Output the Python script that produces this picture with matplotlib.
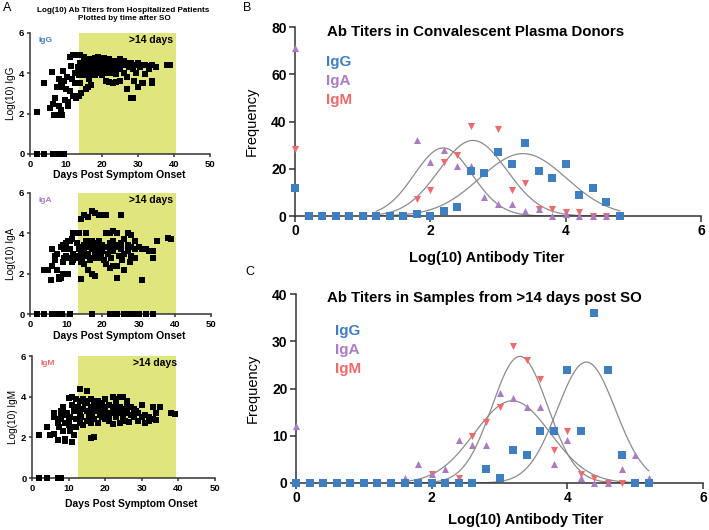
import numpy as np
import matplotlib.pyplot as plt

plt.rcParams['font.family'] = ['Liberation Sans', 'DejaVu Sans']
plt.rcParams['font.weight'] = 'bold'

W, H = 709, 530
SHADE = '#e1e57e'
SPINE = '#333333'
C_IGG = '#3f7fbf'
C_IGA = '#ab7cc2'
C_IGM = '#ef6a6a'

# ---------- panel A: log10 titers by days post symptom onset ----------
igg_days = [2, 4, 6.5, 7.5, 8, 8.5, 9, 9.5,
            2, 4, 5.5, 6, 6.3, 6.8, 7.5, 8.3, 9, 7, 7.5, 8, 8, 8.5, 8.7, 9, 9.3, 9.5,
            9.7, 10, 10.3, 10.6, 10.6, 11, 11, 11.5, 11.8, 12, 12, 12.4, 12.6, 12.8, 13,
            13.2, 13.5, 13.5,
            14, 14, 14, 14, 14.3, 14.5, 15, 15, 15, 15, 15.5, 15.5, 16, 16, 16, 16.5,
            16.5, 16.5, 17, 17, 17, 17, 17.5, 17.5, 18, 18, 18, 18.5, 18.5, 19, 19, 19,
            19.5, 19.5, 20, 20, 20, 20.5, 20.5, 21, 21, 21, 21.5, 21.5, 22, 22, 22, 22.5,
            22.5, 23, 23, 23, 23.5, 24, 24, 24, 24, 24.5, 25, 25, 25, 25.5, 26, 26, 26.5,
            27, 27, 27, 27.5, 28, 28, 28.5, 28.5, 29, 29, 29.5, 30, 30, 30.5, 31, 31,
            31.5, 32, 32, 33, 33, 34, 34, 34, 35, 38, 39]
igg_vals = [0, 0, 0, 0, 0, 0, 0, 0,
            2.1, 3.5, 2.3, 4.05, 2.5, 1.95, 1.95, 1.95, 1.95, 2.8, 3.3, 3.7, 2.4, 3.5, 2.2,
            3.3, 4.1, 3.6, 2.7, 3.2, 3.8, 2.4, 2.6, 4.8, 3.1, 4.35, 3.7, 4.9, 2.9, 4.0,
            3.5, 2.8, 4.9, 4.3, 3.9, 2.9,
            4.9, 4.5, 4.0, 3.5, 3.0, 4.2, 4.8, 4.4, 4.1, 3.9, 3.2, 4.6, 4.5, 4.0, 3.3,
            4.7, 4.2, 3.7, 4.6, 4.3, 3.9, 3.4, 4.5, 4.0, 4.75, 4.4, 3.9, 4.6, 4.2, 4.8,
            4.5, 4.0, 4.7, 4.3, 4.6, 4.3, 3.9, 4.75, 4.1, 4.5, 4.0, 3.6, 4.6, 4.3, 4.7,
            4.4, 3.55, 4.5, 4.0, 4.6, 4.3, 3.5, 4.2, 4.6, 4.4, 3.95, 3.55, 4.5, 4.7, 4.2,
            3.6, 4.4, 4.6, 4.0, 4.4, 4.5, 3.8, 3.2, 4.3, 4.5, 2.8, 2.8, 4.2, 4.4, 3.6,
            4.0, 4.5, 3.3, 4.3, 4.4, 3.5, 3.5, 4.4, 3.95, 4.35, 4.2, 4.4, 3.6, 3.5, 4.3,
            4.4, 4.4]

iga_days = [2, 4, 6, 6.7, 7.4, 8.1, 8.8, 11, 17, 22, 23, 24, 26, 27, 28, 28.6, 29.5,
            30.2, 32, 34,
            4, 5, 5.8, 6, 6, 7, 7, 7.5, 7.5, 8, 8, 8.5, 8.5, 9, 9, 9, 9.5, 9.5, 10, 10,
            10.5, 10.5, 11, 11, 11, 11.5, 11.5, 12, 12, 12, 12.5, 13, 13, 13.5, 13.5, 14,
            14, 14, 14, 14.5, 14.5, 15, 15, 15, 15, 15.5, 15.5, 15.5, 16, 16, 16, 16,
            16.5, 16.5, 17, 17, 17, 17, 17.5, 17.5, 18, 18, 18, 18, 18.5, 19, 19, 19, 19,
            19.5, 20, 20, 20, 20.5, 21, 21, 21, 21, 21.5, 22, 22, 22, 22, 22.5, 23, 23,
            23, 23, 23.5, 24, 24, 24, 24, 24.5, 25, 25, 25, 25.5, 26, 26, 26, 27, 27, 27,
            27.5, 28, 28, 28, 29, 29, 29, 30, 31, 31, 32, 33, 34, 34, 35, 38, 39]
iga_vals = [0] * 20 + [
            2.2, 2.2, 1.7, 3.2, 2.4, 2.9, 2.7, 3.0, 2.2, 1.75, 1.85, 3.3, 1.8, 3.4, 2.6,
            2.0, 3.2, 2.8, 3.5, 2.9, 3.6, 2.0, 3.6, 2.8, 3.2, 3.7, 2.6, 4.0, 3.0, 2.7,
            2.9, 3.5, 2.8, 4.0, 3.2, 4.7, 3.0, 2.6, 1.75, 3.3, 2.8, 4.9, 3.4, 3.1, 2.5,
            4.0, 3.6, 2.9, 4.8, 3.5, 3.0, 2.2, 3.3, 2.7, 5.1, 3.6, 3.2, 2.0, 3.4, 2.8,
            5.0, 3.5, 3.0, 1.9, 3.2, 4.9, 3.6, 3.3, 2.8, 3.0, 4.9, 3.4, 3.1, 2.7, 4.9,
            4.0, 3.3, 2.5, 3.0, 4.0, 3.5, 3.2, 2.3, 2.8, 4.1, 3.6, 3.1, 2.4, 3.3, 4.0,
            3.4, 2.4, 1.8, 2.9, 4.9, 3.5, 3.2, 2.7, 3.7, 3.0, 2.2, 4.0, 3.4, 3.1, 2.6,
            3.9, 3.3, 2.9, 3.6, 3.2, 2.8, 3.3, 3.2, 1.7, 3.2, 3.1, 3.1, 2.8, 3.6, 3.75,
            3.7]

igm_days = [2, 4, 7, 7.5, 8,
            2, 4, 5, 6, 6, 6, 7, 7, 7.5, 7.5, 8, 8, 8.5, 8.5, 9, 9, 9, 9, 9.5, 10, 10,
            10, 10.5, 10.5, 11, 11, 11, 11, 11.5, 11.5, 12, 12, 12, 12.5, 13, 13, 13, 13,
            13.5, 14, 14, 14, 14.5, 15, 15, 15, 15, 15.5, 16, 16, 16, 16, 16.5, 17, 17,
            17, 17, 17.5, 18, 18, 18, 18.5, 19, 19, 19, 19.5, 20, 20, 20, 20.5, 21, 21,
            21, 22, 22, 22, 22, 22.5, 23, 23, 23, 23.5, 24, 24, 24, 24.5, 25, 25, 25,
            25.5, 26, 26, 26, 26.5, 27, 27, 28, 28, 28.5, 29, 29, 30, 30, 31, 31, 32, 32,
            33, 33, 34, 34, 35, 38, 39]
igm_vals = [0, 0, 0, 0, 0,
            2.1, 2.5, 2.1, 2.15, 3.2, 3.0, 1.85, 2.7, 2.9, 2.5, 3.3, 3.0, 2.3, 3.5, 1.8,
            1.9, 3.1, 2.7, 3.2, 3.95, 2.9, 2.6, 3.0, 2.3, 4.0, 1.75, 2.5, 3.6, 2.1, 3.3,
            3.9, 2.9, 2.5, 3.5, 4.4, 3.8, 3.2, 2.7, 3.0, 3.9, 3.4, 2.6, 3.7, 4.3, 3.8,
            3.3, 2.8, 3.0, 3.9, 3.5, 1.95, 2.7, 3.2, 3.8, 3.4, 2.0, 2.9, 3.6, 3.8, 3.3,
            2.7, 3.1, 3.7, 3.4, 3.0, 3.3, 3.9, 3.5, 2.9, 3.2, 3.6, 3.0, 2.8, 4.0, 3.5,
            3.2, 2.65, 3.4, 3.9, 3.6, 3.0, 3.3, 4.0, 3.5, 2.7, 3.2, 4.0, 3.4, 3.0, 2.8,
            3.8, 3.5, 3.2, 2.75, 3.5, 3.1, 3.4, 3.0, 3.3, 3.2, 2.8, 3.6, 3.0, 3.1, 2.7,
            3.0, 2.8, 3.5, 2.9, 3.2, 2.85, 3.5, 3.2, 3.15]

# ---------- panel B: convalescent plasma donors (frequency histograms) ----------
b_igg_x = [0, 0.2, 0.4, 0.6, 0.8, 1.0, 1.2, 1.4, 1.6, 1.8, 2.0, 2.2, 2.4, 2.6, 2.8,
           3.0, 3.2, 3.4, 3.6, 3.8, 4.0, 4.2, 4.4, 4.6, 4.8]
b_igg_y = [12, 0, 0, 0, 0, 0, 0, 0, 0, 1, 0, 2, 4, 19, 18, 27, 22, 31, 19, 16, 22, 9,
           12, 6, 0]
b_iga_x = [0, 1.8, 2.0, 2.2, 2.4, 2.6, 2.8, 3.0, 3.2, 3.4, 3.6, 3.8, 4.0, 4.2, 4.4, 4.6]
b_iga_y = [71, 32, 23, 28, 21, 21, 8, 5, 5, 2, 3, 0, 1, 0, 0, 0]
b_igm_x = [0, 1.8, 2.0, 2.2, 2.4, 2.6, 2.8, 3.0, 3.2, 3.4, 3.6, 3.8, 4.0, 4.2, 4.4, 4.6]
b_igm_y = [28.5, 7, 11, 23, 26, 38, 18, 37, 11, 14, 3, 3, 1.5, 1.5, 0, 0]
# gaussian fits (amplitude, mean, sd) for IgG, IgA, IgM
b_fits = [(26.4, 3.37, 0.64), (28.8, 2.19, 0.43), (32.0, 2.63, 0.50)]

# ---------- panel C: samples >14 days post symptom onset ----------
c_igg_x = [0, 0.2, 0.4, 0.6, 0.8, 1.0, 1.2, 1.4, 1.6, 1.8, 2.0, 2.2, 2.4, 2.6, 2.8,
           3.0, 3.2, 3.4, 3.6, 3.8, 4.0, 4.2, 4.4, 4.6, 4.8, 5.0, 5.2]
c_igg_y = [0, 0, 0, 0, 0, 0, 0, 0, 0, 0, 0, 0, 0, 0, 3, 1, 7, 6, 11, 11, 24, 11, 36,
           24, 6, 0, 0]
c_iga_x = [0, 1.6, 1.8, 2.0, 2.2, 2.4, 2.6, 2.8, 3.0, 3.2, 3.4, 3.6, 3.8, 4.0, 4.2,
           4.4, 4.6, 4.8, 5.0, 5.2]
c_iga_y = [12, 1, 4, 2, 3, 9, 8, 8, 19, 18, 16, 16, 4, 9, 1, 0, 0, 3, 6, 1]
c_igm_x = [2.0, 2.4, 2.6, 2.8, 3.0, 3.2, 3.4, 3.6, 3.8, 4.0, 4.2, 4.4, 4.6, 4.8]
c_igm_y = [2, 1, 10, 13, 16, 29, 26, 22, 7, 11, 2, 1, 0, 0]
c_fits = [(25.6, 4.28, 0.43), (17.4, 3.19, 0.56), (26.8, 3.30, 0.41)]


def px_rect(left, top, right, bottom):
    return [left / W, 1 - bottom / H, (right - left) / W, (bottom - top) / H]


def ftext(x, y, s, **kw):
    fig.text(x / W, 1 - y / H, s, ha=kw.pop('ha', 'center'), va=kw.pop('va', 'center'), **kw)


def style_axes(ax, size, ticklen, pad=2):
    for side in ['top', 'right']:
        ax.spines[side].set_visible(False)
    for side in ['left', 'bottom']:
        ax.spines[side].set_color(SPINE)
        ax.spines[side].set_linewidth(1.1)
    ax.tick_params(direction='out', length=ticklen, width=1.1, color=SPINE,
                   labelsize=size, pad=pad)


fig = plt.figure(figsize=(W / 100, H / 100), dpi=100)


def draw_a(rect, days, vals, iso, iso_color, span, xlab_x, xlab_y):
    ax = fig.add_axes(px_rect(*rect))
    ax.axvspan(span[0], span[1], color=SHADE, lw=0, zorder=0)
    ax.scatter(days, vals, marker='s', s=14, c='black', lw=0, zorder=3, clip_on=False)
    ax.set_xlim(0, 50)
    ax.set_ylim(0, 6)
    ax.set_xticks([0, 10, 20, 30, 40, 50])
    ax.set_yticks([0, 2, 4, 6])
    style_axes(ax, 6.8, 2.5, pad=1.5)
    ax.set_ylabel('Log(10) ' + iso, fontsize=7.2, labelpad=2)
    ax.text(0.045, 0.94, iso, transform=ax.transAxes, color=iso_color, fontsize=6,
            ha='left', va='center')
    ax.text(0.67, 0.94, '>14 days', transform=ax.transAxes, fontsize=7.5,
            ha='center', va='center')
    ftext(xlab_x, xlab_y, 'Days Post Symptom Onset', fontsize=7.5)
    return ax


draw_a((30, 33, 210, 154), igg_days, igg_vals, 'IgG', C_IGG, (13.5, 40.5), 119, 175)
draw_a((30, 193, 211, 314), iga_days, iga_vals, 'IgA', C_IGA, (13.3, 40.3), 119, 336)
draw_a((32, 356, 215, 478), igm_days, igm_vals, 'IgM', C_IGM, (12.6, 39.4), 131, 504)

ftext(7, 8, 'A', fontsize=9, fontweight='normal')
ftext(123, 10, 'Log(10) Ab Titers from Hospitalized Patients', fontsize=5.9)
ftext(124, 19, 'Plotted by time after SO', fontsize=5.9)


def draw_hist(rect, series, fits, fit_range, ymax, ystep, title, title_xy, legend_x,
              legend_y, letter, letter_xy, xlab_xy):
    ax = fig.add_axes(px_rect(*rect))
    xs = np.linspace(fit_range[0], fit_range[1], 200)
    for amp, mu, sd in fits:
        ax.plot(xs, amp * np.exp(-0.5 * ((xs - mu) / sd) ** 2), color='#8c8c8c',
                lw=0.9, zorder=2)
    for (x, y, marker, color, z) in series:
        ax.scatter(x, y, marker=marker, s=30 if marker == 's' else 26, c=color, lw=0,
                   zorder=z, clip_on=False)
    ax.set_xlim(0, 6)
    ax.set_ylim(0, ymax)
    ax.set_xticks([0, 2, 4, 6])
    ax.set_yticks(np.arange(0, ymax + 1, ystep))
    style_axes(ax, 10, 4)
    ax.set_ylabel('Frequency', fontsize=10.5, labelpad=9)
    ftext(title_xy[0], title_xy[1], title, fontsize=10.8)
    for name, color, dy in [('IgG', C_IGG, 0), ('IgA', C_IGA, 19), ('IgM', C_IGM, 38)]:
        ftext(legend_x, legend_y + dy, name, color=color, fontsize=11, ha='left')
    ftext(letter_xy[0], letter_xy[1], letter, fontsize=9, fontweight='normal')
    ftext(xlab_xy[0], xlab_xy[1], 'Log(10) Antibody Titer', fontsize=10.5)
    return ax


draw_hist((295, 27, 701, 216),
          [(b_igm_x, b_igm_y, 'v', C_IGM, 3), (b_iga_x, b_iga_y, '^', C_IGA, 4),
           (b_igg_x, b_igg_y, 's', C_IGG, 5)],
          b_fits, (1.2, 4.8), 80, 20,
          'Ab Titers in Convalescent Plasma Donors', (476, 32), 326, 62, 'B', (247, 8),
          (487, 258))

draw_hist((296, 294, 703, 483),
          [(c_igm_x, c_igm_y, 'v', C_IGM, 3), (c_iga_x, c_iga_y, '^', C_IGA, 4),
           (c_igg_x, c_igg_y, 's', C_IGG, 5)],
          c_fits, (1.6, 5.2), 40, 10,
          'Ab Titers in Samples from >14 days post SO', (484, 298), 335, 331, 'C',
          (250, 272), (526, 520))

fig.savefig('out.png', dpi=100)
